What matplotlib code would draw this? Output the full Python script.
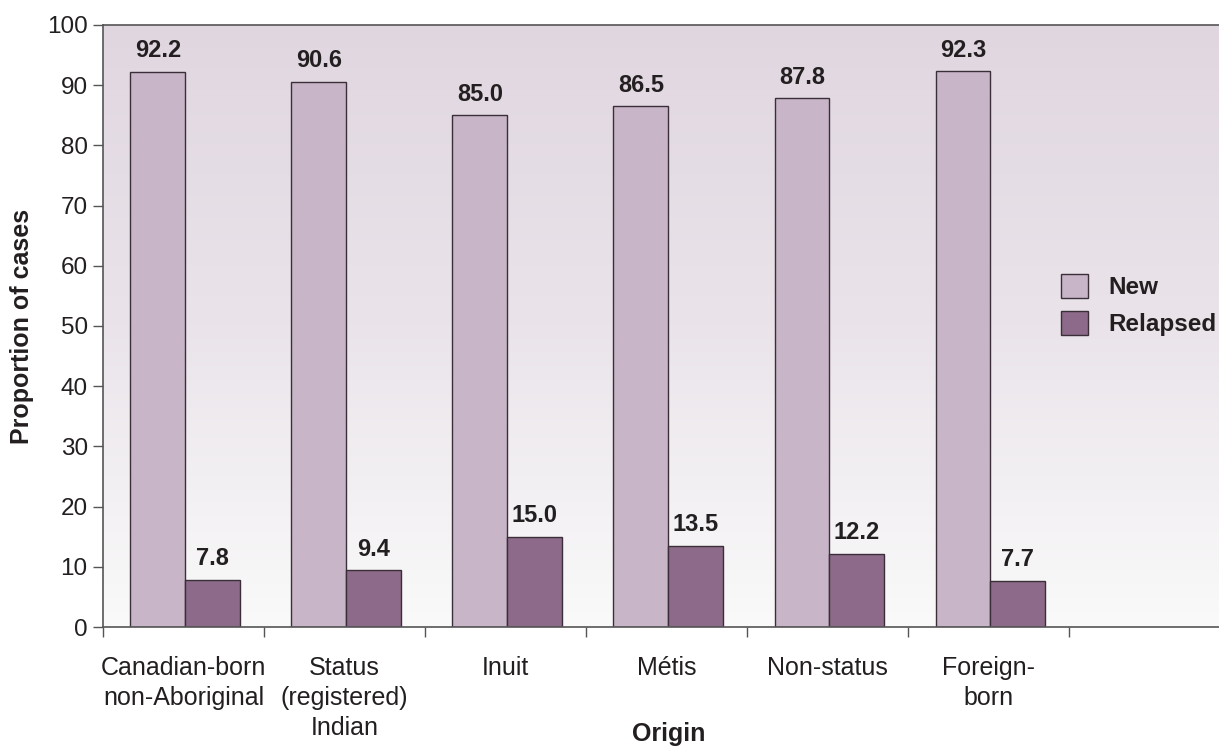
import numpy as np
import matplotlib
matplotlib.use("Agg")
import matplotlib.pyplot as plt
from matplotlib.colors import LinearSegmentedColormap

plt.rcParams['font.family'] = ['Liberation Sans', 'DejaVu Sans']

categories = ["Canadian-born\nnon-Aboriginal", "Status\n(registered)\nIndian", "Inuit",
              "Métis", "Non-status", "Foreign-\nborn"]
new_cases = [92.2, 90.6, 85.0, 86.5, 87.8, 92.3]
relapsed_cases = [7.8, 9.4, 15.0, 13.5, 12.2, 7.7]
series_names = ["New", "Relapsed"]
y_ticks = [0, 10, 20, 30, 40, 50, 60, 70, 80, 90, 100]

new_color = "#c8b6c8"
relapsed_color = "#8e6a8a"
edge_color = "#3a2f38"
text_color = "#231f20"

fig = plt.figure(figsize=(12.19, 7.47), dpi=100)
ax = fig.add_axes([0.0845, 0.1606, 0.9155, 0.806])

xlim = (-0.5, 6.43)
ylim = (0, 100)
ax.set_xlim(*xlim)
ax.set_ylim(*ylim)

# vertical background gradient: light mauve at top fading to near white
cmap = LinearSegmentedColormap.from_list("bg", ["#fafafa", "#eae4ea", "#e0d6e0"])
grad = np.linspace(0, 1, 256).reshape(-1, 1)
ax.imshow(grad, aspect="auto", cmap=cmap, origin="lower",
          extent=(xlim[0], xlim[1], ylim[0], ylim[1]), zorder=0)

x = np.arange(len(categories))
w = 0.34
b1 = ax.bar(x - w / 2 + 0.01, new_cases, w, color=new_color, edgecolor=edge_color,
            linewidth=1.0, label=series_names[0], zorder=2)
b2 = ax.bar(x + w / 2 + 0.01, relapsed_cases, w, color=relapsed_color, edgecolor=edge_color,
            linewidth=1.0, label=series_names[1], zorder=2)

for bars, vals in ((b1, new_cases), (b2, relapsed_cases)):
    for rect, v in zip(bars, vals):
        ax.annotate(f"{v:.1f}", (rect.get_x() + rect.get_width() / 2, v),
                    xytext=(0, 7), textcoords="offset points", ha="center", va="bottom",
                    fontsize=17, fontweight="bold", color=text_color)

ax.set_yticks(y_ticks)
ax.tick_params(axis="y", direction="out", length=7, width=1, color="#555555",
               labelsize=17.5, labelcolor=text_color, pad=4)

ax.set_xticks(x)
ax.set_xticklabels(categories, fontsize=18, color=text_color, linespacing=1.3)
ax.set_xticks(np.arange(-0.5, 6.0, 1.0), minor=True)
ax.tick_params(axis="x", which="major", length=0, pad=21)
ax.tick_params(axis="x", which="minor", direction="out", length=7, width=1, color="#555555")

for side in ("left", "bottom", "top"):
    ax.spines[side].set_color("#555555")
    ax.spines[side].set_linewidth(1.2)
ax.spines["right"].set_visible(False)

ax.set_ylabel("Proportion of cases", fontsize=18, fontweight="bold", color=text_color)
ax.yaxis.set_label_coords(-0.062, 0.5)
ax.set_xlabel("Origin", fontsize=18, fontweight="bold", color=text_color)
ax.xaxis.set_label_coords(0.507, -0.158)

leg = ax.legend(loc="center left", bbox_to_anchor=(0.858, 0.535), frameon=False,
                borderpad=0, borderaxespad=0,
                handlelength=1.15, handleheight=1.15, handletextpad=0.8,
                labelspacing=0.5, prop={"weight": "bold", "size": 17.5})
for t in leg.get_texts():
    t.set_color(text_color)

fig.savefig("out.png", dpi=100)
